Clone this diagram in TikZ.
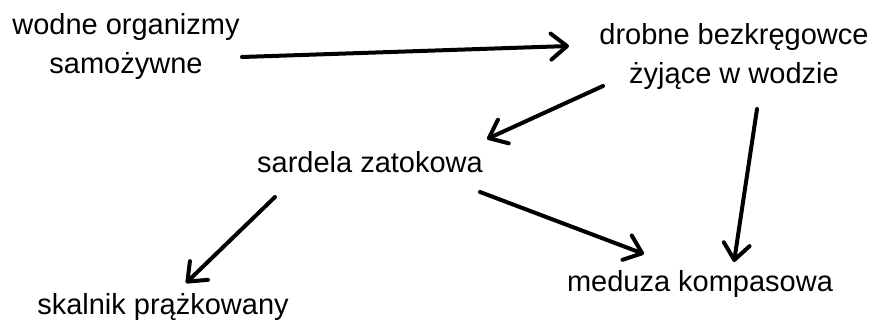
\documentclass[tikz,border=0pt]{standalone}
\usepackage{fontspec}
\setmainfont{Liberation Sans}
\usetikzlibrary{arrows.meta}
\begin{document}
\begin{tikzpicture}[x=1pt,y=-1pt,
  lbl/.style={align=center,inner sep=0pt,anchor=base,font=\fontsize{29}{39}\selectfont},
  arr/.style={line width=4pt,line cap=round,-{Straight Barb[length=16pt,width=26pt,line cap=round,line join=round]}}]
\useasboundingbox (0,0) rectangle (875,320);
\node[lbl] (w) at (126,74) {wodne organizmy\\samożywne};
\node[lbl] (d) at (734,84) {drobne bezkręgowce\\żyjące w wodzie};
\node[lbl] (s) at (370,173) {sardela zatokowa};
\node[lbl] (k) at (163,314) {skalnik prążkowany};
\node[lbl] (m) at (700,291) {meduza kompasowa};
\coordinate (a1s) at (242,57); \coordinate (a1e) at (569,46);
\coordinate (a2s) at (603,86); \coordinate (a2e) at (487,139);
\coordinate (a3s) at (757,109); \coordinate (a3e) at (734,262);
\coordinate (a4s) at (275,197); \coordinate (a4e) at (186,283);
\coordinate (a5s) at (480,192); \coordinate (a5e) at (644,254);
\draw[arr] (a1s) -- (a1e);
\draw[arr] (a2s) -- (a2e);
\draw[arr] (a3s) -- (a3e);
\draw[arr] (a4s) -- (a4e);
\draw[arr] (a5s) -- (a5e);
\end{tikzpicture}
\end{document}
